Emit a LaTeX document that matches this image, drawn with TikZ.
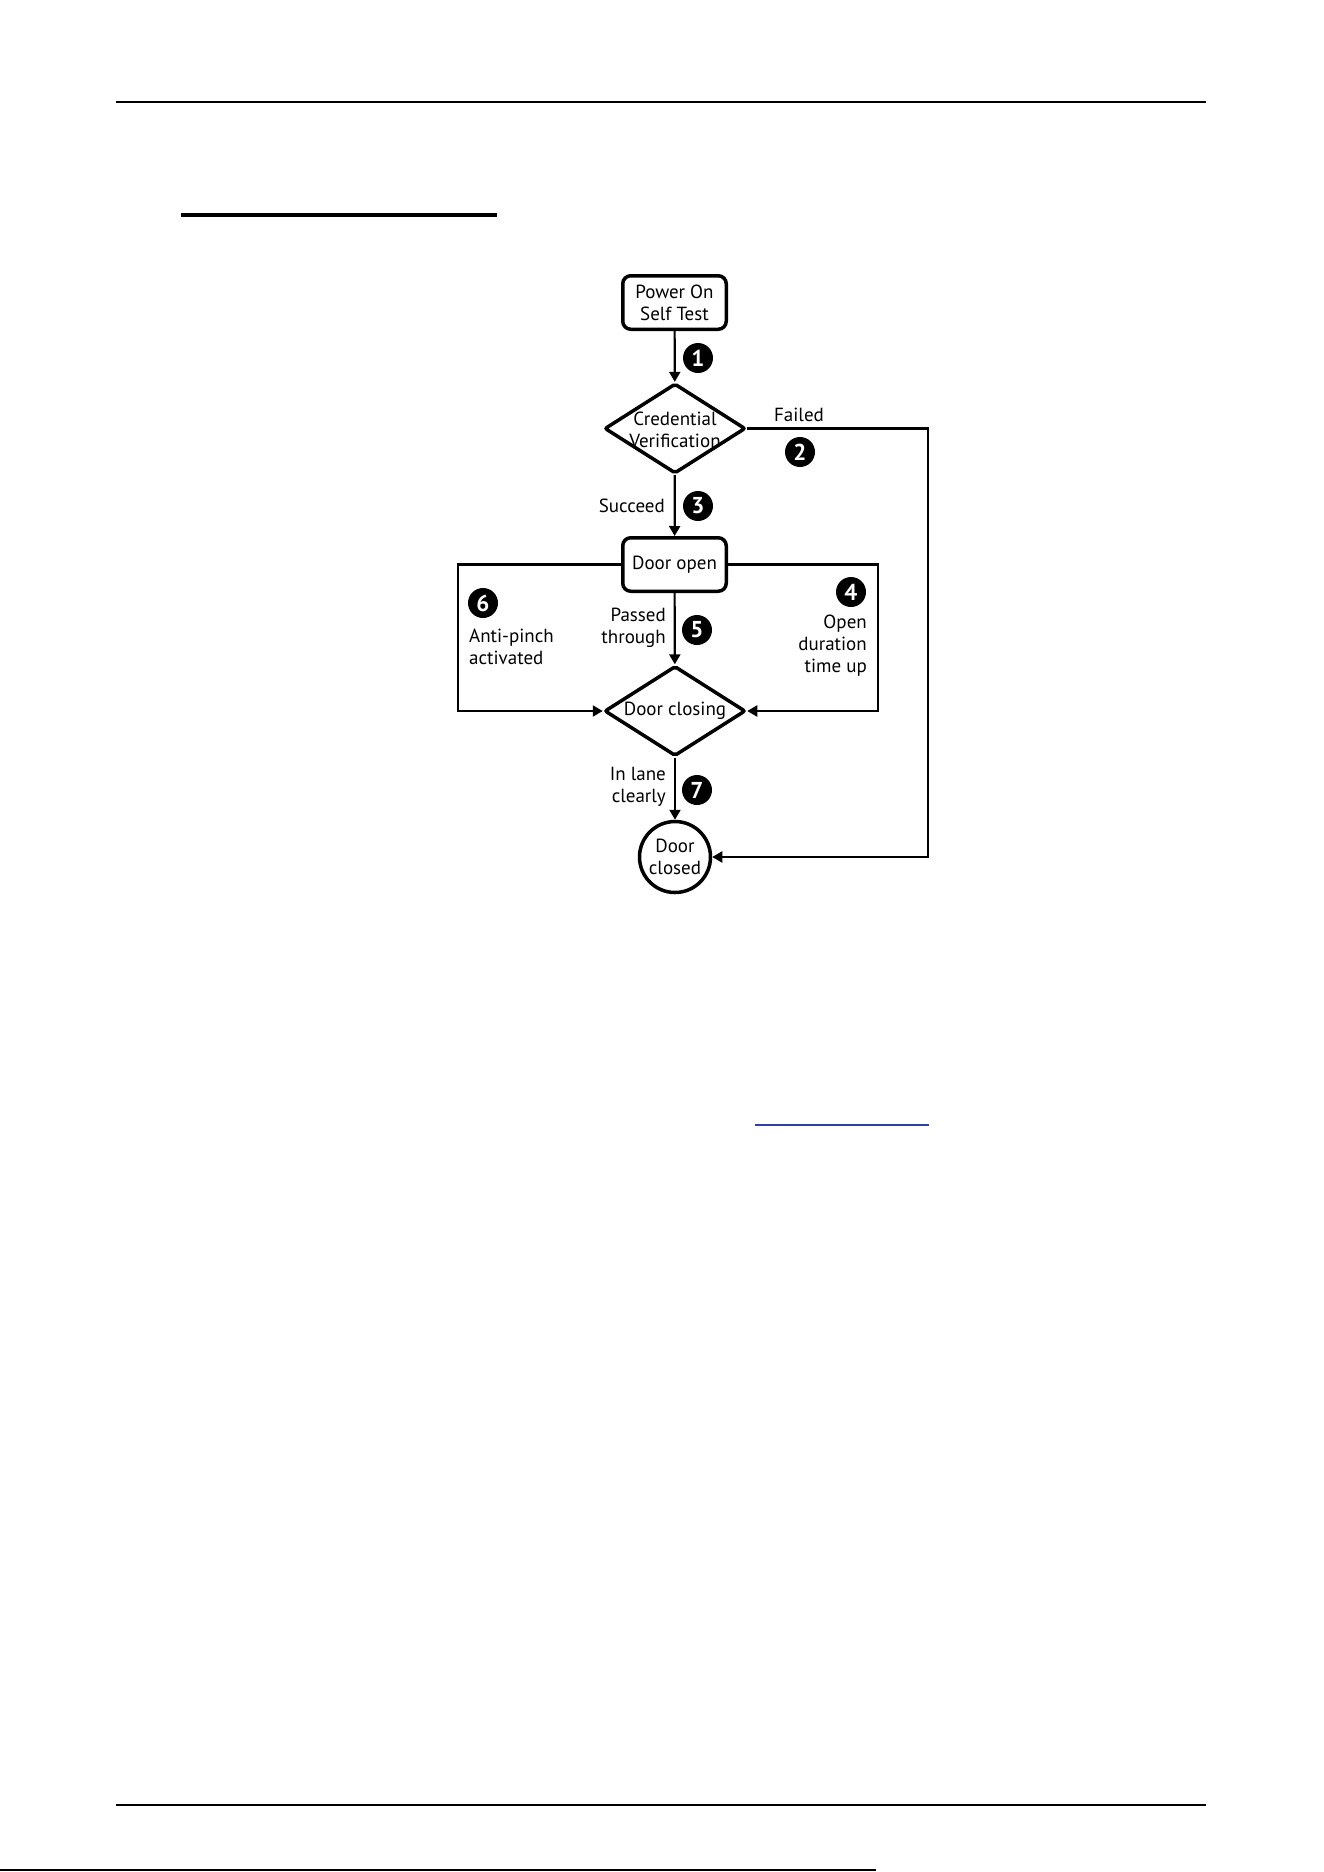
\documentclass[tikz,border=0pt]{standalone}
\usepackage{fontspec}
\setmainfont{PT Sans}
\usetikzlibrary{shapes.geometric,arrows.meta}
\definecolor{linkblue}{RGB}{46,64,168}
\begin{document}
\begin{tikzpicture}[x=1pt,y=-1pt,
  every node/.style={font=\fontsize{19}{22}\selectfont},
  box/.style={draw,line width=3.5pt,rounded corners=8pt,minimum width=103.5pt,minimum height=53.5pt,inner sep=0pt,align=center},
  dia/.style={draw,diamond,line width=3.5pt,rounded corners=2pt,minimum width=141pt,minimum height=90pt,inner sep=0pt},
  endc/.style={draw,circle,line width=3.5pt,minimum size=71pt,inner sep=0pt,align=center},
  lbl/.style={inner sep=0pt},
  num/.style={circle,fill=black,text=white,inner sep=0pt,minimum size=30pt,font=\fontsize{23}{23}\selectfont\bfseries},
  conn/.style={line width=2.2pt,-{Triangle[length=10pt,width=11pt]}},
  rule/.style={line width=2pt}
]
\useasboundingbox (0,0) rectangle (1324,1872);
% page rules
\draw[rule] (116,102) -- (1206,102);
\draw[line width=4pt] (181,215) -- (497,215);
\draw[linkblue,line width=2pt] (755,1125) -- (929,1125);
\draw[rule] (116,1805) -- (1206,1805);
\draw[rule] (0,1870) -- (876,1870);

% nodes
\node[box] (pos) at (674.5,302.5) {Power On\\Self Test};
\node[dia] (cv) at (675,428.5) {};
\node[lbl,align=center] (cvt) at (675,429.5) {Credential\\Verification};
\node[box] (dop) at (674.5,564.5) {Door open};
\node[dia] (dc) at (675,711) {};
\node[lbl] (dct) at (675,711) {Door closing};
\node[endc] (dcl) at (675,857) {Door\\closed};

% helper coordinates
\coordinate (fr) at (928,428.5);
\coordinate (ll) at (458,564.5);
\coordinate (rl) at (878,564.5);

% connectors
\draw[conn] (pos) -- (cv);
\draw[conn] (cv.east) -- (fr) |- (dcl.east);
\draw[conn] (cv) -- (dop);
\draw[conn] (dop) -- (dc);
\draw[conn] (dop.west) -- (ll) |- (dc.west);
\draw[conn] (dop.east) -- (rl) |- (dc.east);
\draw[conn] (dc) -- (dcl);

% labels
\node[num] (n1) at (698,358) {1};
\node[lbl] (failed) at (799,415) {Failed};
\node[num] (n2) at (800,452) {2};
\node[lbl,anchor=east] (succ) at (665,506) {Succeed};
\node[num] (n3) at (698,506) {3};
\node[num] (n6) at (483,603) {6};
\node[lbl,anchor=west,align=left] (anti) at (469,647) {Anti-pinch\\activated};
\node[lbl,anchor=east,align=right] (pass) at (666,628) {Passed\\through};
\node[num] (n5) at (697,630) {5};
\node[num] (n4) at (851,592) {4};
\node[lbl,anchor=east,align=right] (opend) at (867,646) {Open\\duration\\time up};
\node[lbl,anchor=east,align=right] (lane) at (666,786.5) {In lane\\clearly};
\node[num] (n7) at (697,790) {7};
\end{tikzpicture}
\end{document}
